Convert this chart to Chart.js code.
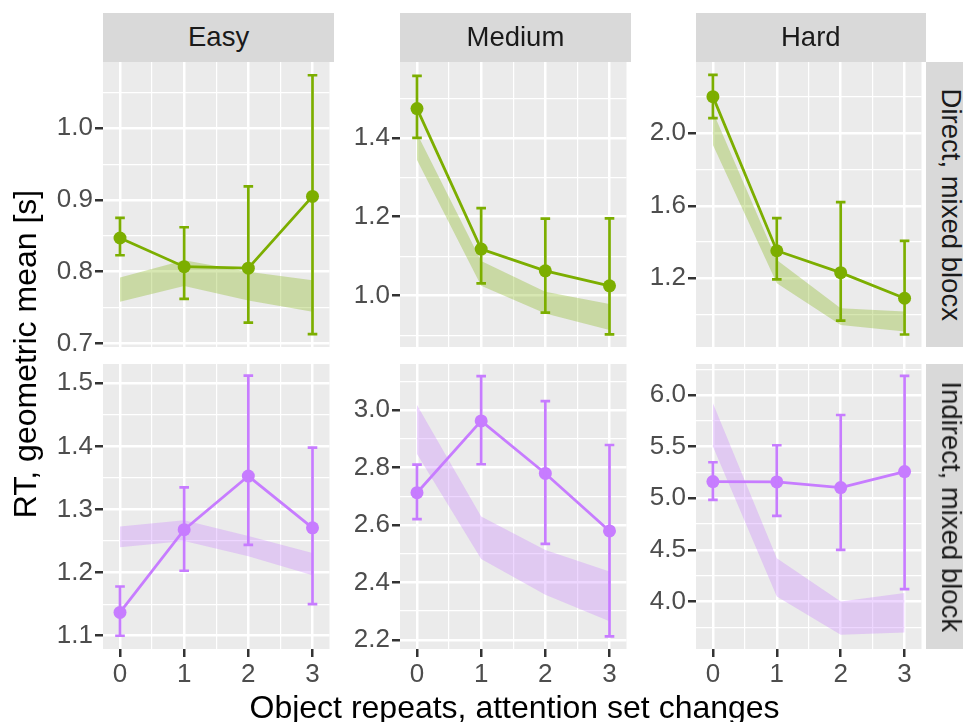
<!DOCTYPE html>
<html>
<head>
<meta charset="utf-8">
<script src="https://cdn.jsdelivr.net/npm/chart.js@4.4.1/dist/chart.umd.min.js"></script>
<style>
  body { margin: 0; background: #fff; }
  #fig { position: relative; width: 963px; height: 722px; overflow: hidden; font-family: "Liberation Sans", Arial, sans-serif; }
  #fig canvas { position: absolute; }
  .strip { position: absolute; background: #d9d9d9; color: #1a1a1a; font-size: 27.5px; overflow: hidden; }
  .strip span, .title span { position: absolute; white-space: nowrap; line-height: 1; }
  .title { position: absolute; color: #000; font-size: 32px; }
</style>
</head>
<body>
<div id="fig"></div>
<script>
// facets
var difficulties = ['Easy', 'Medium', 'Hard'];
var blocks = ['Direct, mixed blocx', 'Indirect, mixed block'];
var xValues = [0, 1, 2, 3];
var xTickLabels = ['0', '1', '2', '3'];

// direct, mixed block: one list per difficulty
var meanDirect     = [[0.847, 0.807, 0.805, 0.905], [1.474, 1.118, 1.063, 1.025], [2.202, 1.352, 1.231, 1.090]];
var lowDirect      = [[0.823, 0.762, 0.729, 0.713], [1.400, 1.031, 0.957, 0.902], [2.083, 1.194, 0.966, 0.890]];
var highDirect     = [[0.875, 0.862, 0.919, 1.074], [1.557, 1.222, 1.195, 1.196], [2.322, 1.532, 1.620, 1.406]];
var bandLowDirect  = [[0.758, 0.780, 0.760, 0.744], [1.344, 1.025, 0.955, 0.913], [1.935, 1.172, 0.943, 0.907]];
var bandHighDirect = [[0.792, 0.816, 0.800, 0.788], [1.411, 1.088, 1.010, 0.979], [2.119, 1.301, 1.035, 1.017]];

// indirect, mixed block
var meanIndirect     = [[1.137, 1.268, 1.353, 1.271], [2.712, 2.962, 2.779, 2.579], [5.161, 5.158, 5.103, 5.258]];
var lowIndirect      = [[1.100, 1.203, 1.244, 1.150], [2.620, 2.811, 2.534, 2.212], [4.984, 4.829, 4.500, 4.120]];
var highIndirect     = [[1.178, 1.335, 1.512, 1.398], [2.810, 3.118, 3.031, 2.878], [5.348, 5.513, 5.806, 6.184]];
var bandLowIndirect  = [[1.240, 1.250, 1.226, 1.196], [2.847, 2.481, 2.357, 2.265], [5.500, 4.048, 3.677, 3.700]];
var bandHighIndirect = [[1.273, 1.283, 1.258, 1.231], [3.017, 2.629, 2.513, 2.438], [5.919, 4.419, 4.000, 4.081]];

// y tick labels per panel (row, column)
var yTicks = [
  [[0.7, 0.8, 0.9, 1.0], [1.0, 1.2, 1.4], [1.2, 1.6, 2.0]],
  [[1.1, 1.2, 1.3, 1.4, 1.5], [2.2, 2.4, 2.6, 2.8, 3.0], [4.0, 4.5, 5.0, 5.5, 6.0]]
];
var yMin = [[0.695, 0.870, 0.821], [1.079, 2.168, 3.539]];
var yMax = [[1.0925, 1.592, 2.393], [1.5305, 3.160, 6.300]];

var colors = ['#7CAE00', '#C77CFF'];
var bandColors = ['rgba(124,174,0,0.3)', 'rgba(199,124,255,0.3)'];

var rows = [
  {mean: meanDirect, low: lowDirect, high: highDirect, bLow: bandLowDirect, bHigh: bandHighDirect},
  {mean: meanIndirect, low: lowIndirect, high: highIndirect, bLow: bandLowIndirect, bHigh: bandHighIndirect}
];

// layout of the facet grid (pixels)
var panelLeft = [103, 400, 696], panelWidth = [231, 231, 230];
var panelTop = [62, 364], panelHeight = 285;
var FONT = '"Liberation Sans", Arial, sans-serif';
Chart.defaults.font.family = FONT;

var panelBg = {
  id: 'panelBg',
  beforeDraw: function(chart) {
    var a = chart.chartArea, ctx = chart.ctx;
    ctx.save();
    ctx.fillStyle = '#ebebeb';
    ctx.fillRect(a.left, a.top, a.right - a.left, a.bottom - a.top);
    ctx.restore();
  }
};

var errorBars = {
  id: 'errorBars',
  afterDatasetsDraw: function(chart, args, opts) {
    var ctx = chart.ctx, xs = chart.scales.x, ys = chart.scales.y;
    ctx.save();
    ctx.strokeStyle = opts.color;
    ctx.lineWidth = 2.7;
    opts.low.forEach(function(lo, i) {
      var x = xs.getPixelForValue(xValues[i]);
      var xa = xs.getPixelForValue(xValues[i] - 0.075), xb = xs.getPixelForValue(xValues[i] + 0.075);
      var yl = ys.getPixelForValue(lo), yh = ys.getPixelForValue(opts.high[i]);
      ctx.beginPath();
      ctx.moveTo(x, yl); ctx.lineTo(x, yh);
      ctx.moveTo(xa, yl); ctx.lineTo(xb, yl);
      ctx.moveTo(xa, yh); ctx.lineTo(xb, yh);
      ctx.stroke();
    });
    ctx.restore();
  }
};

function xy(arr) {
  return arr.map(function(v, i) { return {x: xValues[i], y: v}; });
}

function gridValues(majors, lo, hi) {
  var step = majors[1] - majors[0], out = [];
  majors.forEach(function(m) { out.push(m - step / 2, m); });
  out.push(majors[majors.length - 1] + step / 2);
  return out.filter(function(v) { return v >= lo && v <= hi; });
}

function isMajor(v, majors) {
  return majors.some(function(m) { return Math.abs(m - v) < 1e-9; });
}

var fig = document.getElementById('fig');

function makePanel(r, c) {
  var bottom = r === 1;
  var canvas = document.createElement('canvas');
  var w = panelWidth[c] + 64, h = panelHeight + 20 + (bottom ? 45 : 20);
  canvas.width = w; canvas.height = h;
  canvas.style.left = (panelLeft[c] - 62) + 'px';
  canvas.style.top = (panelTop[r] - 20) + 'px';
  canvas.style.width = w + 'px'; canvas.style.height = h + 'px';
  fig.appendChild(canvas);

  var d = rows[r], majors = yTicks[r][c];
  var yGrid = gridValues(majors, yMin[r][c], yMax[r][c]);
  var xGrid = [0, 0.5, 1, 1.5, 2, 2.5, 3];

  new Chart(canvas, {
    type: 'line',
    data: {
      datasets: [
        {data: xy(d.bHigh[c]), borderWidth: 0, borderColor: 'rgba(0,0,0,0)', pointRadius: 0,
         fill: '+1', backgroundColor: bandColors[r], order: 2},
        {data: xy(d.bLow[c]), borderWidth: 0, borderColor: 'rgba(0,0,0,0)', pointRadius: 0,
         fill: false, order: 3},
        {data: xy(d.mean[c]), borderColor: colors[r], borderWidth: 2.8, pointRadius: 6.5,
         pointBackgroundColor: colors[r], pointBorderWidth: 0, fill: false, order: 0}
      ]
    },
    options: {
      responsive: false,
      animation: false,
      events: [],
      layout: {padding: {top: 20, right: 2, left: 0, bottom: 0}},
      plugins: {
        legend: {display: false},
        tooltip: {enabled: false},
        errorBars: {low: d.low[c], high: d.high[c], color: colors[r]}
      },
      scales: {
        x: {
          type: 'linear', min: -0.265, max: 3.265,
          afterBuildTicks: function(s) { s.ticks = xGrid.map(function(v) { return {value: v}; }); },
          ticks: {
            display: bottom, autoSkip: false, maxRotation: 0, padding: 2,
            color: '#4d4d4d', font: {size: 26},
            callback: function(v) { var k = xValues.indexOf(v); return k < 0 ? '' : xTickLabels[k]; }
          },
          grid: {
            color: '#ffffff', drawTicks: bottom, tickLength: 8, tickWidth: 2.5,
            lineWidth: function(ctx) { return Number.isInteger(ctx.tick.value) ? 2.5 : 1.2; },
            tickColor: function(ctx) { return Number.isInteger(ctx.tick.value) ? '#333333' : 'rgba(0,0,0,0)'; }
          },
          border: {display: false},
          afterFit: function(s) { s.height = bottom ? 45 : 20; s.paddingLeft = 0; s.paddingRight = 0; }
        },
        y: {
          type: 'linear', min: yMin[r][c], max: yMax[r][c],
          afterBuildTicks: function(s) { s.ticks = yGrid.map(function(v) { return {value: v}; }); },
          ticks: {
            autoSkip: false, padding: 2, color: '#4d4d4d', font: {size: 26},
            callback: function(v) { return isMajor(v, majors) ? v.toFixed(1) : ''; }
          },
          grid: {
            color: '#ffffff', drawTicks: true, tickLength: 8, tickWidth: 2.5,
            lineWidth: function(ctx) { return isMajor(ctx.tick.value, majors) ? 2.5 : 1.2; },
            tickColor: function(ctx) { return isMajor(ctx.tick.value, majors) ? '#333333' : 'rgba(0,0,0,0)'; }
          },
          border: {display: false},
          afterFit: function(s) { s.width = 62; s.paddingTop = 0; s.paddingBottom = 0; }
        }
      }
    },
    plugins: [panelBg, errorBars]
  });
}

function addText(cls, text, left, top, width, height, cx, cy, rot) {
  var box = document.createElement('div');
  box.className = cls;
  box.style.left = left + 'px'; box.style.top = top + 'px';
  box.style.width = width + 'px'; box.style.height = height + 'px';
  var span = document.createElement('span');
  span.textContent = text;
  box.appendChild(span);
  fig.appendChild(box);
  var sw = span.offsetWidth, sh = span.offsetHeight;
  span.style.left = (cx - sw / 2) + 'px';
  span.style.top = (cy - sh / 2) + 'px';
  if (rot) span.style.transform = 'rotate(' + rot + 'deg)';
}

for (var r = 0; r < 2; r++) {
  for (var c = 0; c < 3; c++) makePanel(r, c);
}
difficulties.forEach(function(name, c) {
  addText('strip', name, panelLeft[c], 13, panelWidth[c], 49, panelWidth[c] / 2, 24, 0);
});
blocks.forEach(function(name, r) {
  addText('strip', name, 926, panelTop[r], 37, panelHeight, 25, panelHeight / 2, 90);
});
addText('title', 'RT, geometric mean [s]', 0, 0, 60, 722, 25, 354, -90);
addText('title', 'Object repeats, attention set changes', 0, 680, 963, 42, 514.5, 27, 0);
</script>
</body>
</html>
